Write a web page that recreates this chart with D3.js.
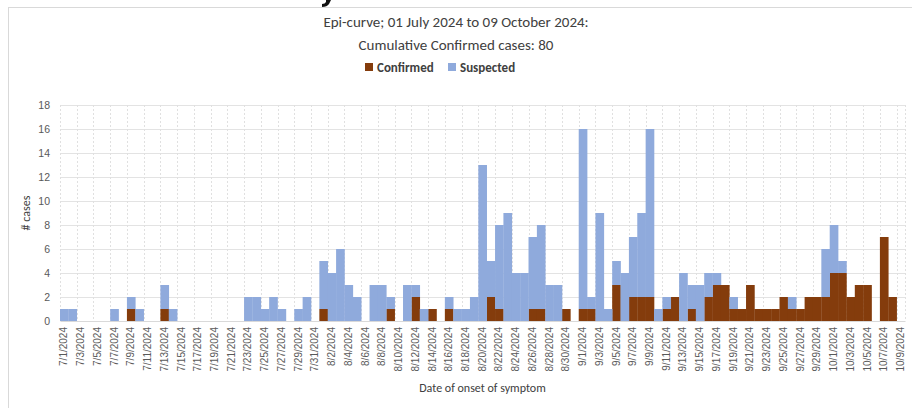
<!DOCTYPE html>
<html>
<head>
<meta charset="utf-8">
<script src="https://cdn.jsdelivr.net/npm/d3@7"></script>
<style>
  body { margin: 0; background: #fff; }
  svg { display: block; font-family: Carlito, Calibri, 'Liberation Sans Narrow', 'DejaVu Sans Condensed', sans-serif; }
  .title { fill: #404040; font-size: 15px; }
  .legend-label { fill: #404040; font-size: 13px; font-weight: bold; }
  .axis text { fill: #595959; }
  .axis-title { fill: #404040; font-size: 12px; }
</style>
</head>
<body>
<svg id="chart"></svg>
<script>
// daily categories 1 Jul - 9 Oct 2024
const startDay = new Date(2024, 6, 1);
const endDay = new Date(2024, 9, 10);

// confirmed cases per day (Jul, Aug, Sep, Oct)
const confirmed = [
  0,0,0,0,0,0,0,0,1,0, 0,0,1,0,0,0,0,0,0,0, 0,0,0,0,0,0,0,0,0,0, 0,
  1,0,0,0,0,0,0,0,1,0, 0,2,0,1,0,1,0,0,0,0, 2,1,0,0,0,1,1,0,0,1, 0,
  1,1,0,0,3,0,2,2,2,0, 1,2,0,1,0,2,3,3,1,1, 3,1,1,1,2,1,1,2,2,2,
  4,4,2,3,3,0,7,2,0
];

// suspected cases per day
const suspected = [
  1,1,0,0,0,0,1,0,1,1, 0,0,2,1,0,0,0,0,0,0, 0,0,2,2,1,2,1,0,1,2, 0,
  4,4,6,3,2,0,3,3,1,0, 3,1,1,0,0,1,1,1,2,13, 3,7,9,4,4,6,7,3,3,0, 0,
  15,1,9,1,2,4,5,7,14,1, 1,0,4,2,3,2,1,0,1,0, 0,0,0,0,0,1,0,0,0,4,
  4,1,0,0,0,0,0,0,0
];

const yTicks = [0, 2, 4, 6, 8, 10, 12, 14, 16, 18];
const seriesNames = ['Confirmed', 'Suspected'];
const seriesColors = ['#843c0c', '#8faadc'];

class EpiCurve {

  constructor(_config, _data) {
    this.config = {
      parentElement: _config.parentElement,
      containerWidth: _config.containerWidth || 912,
      containerHeight: _config.containerHeight || 408,
      margin: _config.margin || {top: 105, right: 7, bottom: 87, left: 60}
    };
    this.data = _data;
    this.initVis();
  }

  initVis() {
    let vis = this;

    vis.width = vis.config.containerWidth - vis.config.margin.left - vis.config.margin.right;
    vis.height = vis.config.containerHeight - vis.config.margin.top - vis.config.margin.bottom;

    vis.svg = d3.select(vis.config.parentElement)
        .attr('width', vis.config.containerWidth)
        .attr('height', vis.config.containerHeight);

    // chart frame (cut off on the right, like the screenshot)
    vis.svg.append('rect')
        .attr('x', 8.5).attr('y', 7.5)
        .attr('width', 920).attr('height', 420)
        .attr('fill', '#fff')
        .attr('stroke', '#d9d9d9');

    // descender of the page heading that sits above the frame
    vis.svg.append('path')
        .attr('d', 'M326,0 L331,0 L329,4 Q327,7 322,7 L322,4 Q325,4 326,2 Z')
        .attr('fill', '#111');

    vis.chart = vis.svg.append('g')
        .attr('transform', `translate(${vis.config.margin.left},${vis.config.margin.top})`);

    vis.xScale = d3.scaleBand()
        .range([0, vis.width])
        .padding(0);

    vis.yScale = d3.scaleLinear()
        .range([vis.height, 0]);

    vis.gridG = vis.chart.append('g').attr('class', 'grid');
    vis.barsG = vis.chart.append('g').attr('class', 'bars');
    vis.xAxisG = vis.chart.append('g')
        .attr('class', 'axis x-axis')
        .attr('transform', `translate(0,${vis.height})`);
    vis.yAxisG = vis.chart.append('g')
        .attr('class', 'axis y-axis');

    // titles
    const cx = vis.config.containerWidth / 2;
    vis.svg.append('text')
        .attr('class', 'title')
        .attr('x', cx).attr('y', 27)
        .style('text-anchor', 'middle')
        .text('Epi-curve; 01 July 2024 to 09 October 2024:');
    vis.svg.append('text')
        .attr('class', 'title')
        .attr('x', cx).attr('y', 50)
        .style('text-anchor', 'middle')
        .text('Cumulative Confirmed cases: 80');

    // legend
    const legend = vis.svg.append('g')
        .attr('transform', 'translate(365,63)');
    const legendX = [0, 83];
    seriesNames.forEach((name, i) => {
      legend.append('rect')
          .attr('x', legendX[i]).attr('y', 0)
          .attr('width', 8).attr('height', 8)
          .attr('fill', seriesColors[i]);
      legend.append('text')
          .attr('class', 'legend-label')
          .attr('x', legendX[i] + 12).attr('y', 9)
          .text(name);
    });

    vis.chart.append('text')
        .attr('class', 'axis-title')
        .attr('transform', `translate(-30,${vis.height / 2}) rotate(-90)`)
        .style('text-anchor', 'middle')
        .text('# cases');

    vis.chart.append('text')
        .attr('class', 'axis-title')
        .attr('x', vis.width / 2)
        .attr('y', vis.height + 71)
        .style('text-anchor', 'middle')
        .text('Date of onset of symptom');
  }

  updateVis() {
    let vis = this;

    vis.fmt = d3.timeFormat('%-m/%-d/%Y');
    vis.xValue = d => vis.fmt(d.date);

    vis.xScale.domain(vis.data.map(vis.xValue));
    vis.yScale.domain([0, 18]);

    vis.stacked = d3.stack().keys(['confirmed', 'suspected'])(vis.data);

    vis.labelDays = vis.data.filter((d, i) => i % 2 === 0).map(vis.xValue);

    vis.xAxis = d3.axisBottom(vis.xScale)
        .tickValues(vis.labelDays)
        .tickSize(0)
        .tickPadding(6);

    vis.yAxis = d3.axisLeft(vis.yScale)
        .tickValues(yTicks)
        .tickSize(0)
        .tickPadding(10);

    vis.renderVis();
  }

  renderVis() {
    let vis = this;

    // horizontal gridlines
    vis.gridG.selectAll('.hgrid')
        .data(yTicks.filter(d => d > 0))
      .join('line')
        .attr('class', 'hgrid')
        .attr('x1', 0).attr('x2', vis.width)
        .attr('y1', d => vis.yScale(d) + 0.5)
        .attr('y2', d => vis.yScale(d) + 0.5)
        .attr('stroke', '#e3e3e3');

    // dashed vertical gridlines every second day
    const vLines = vis.labelDays.map(d => vis.xScale(d)).concat([vis.width]);
    vis.gridG.selectAll('.vgrid')
        .data(vLines)
      .join('line')
        .attr('class', 'vgrid')
        .attr('x1', d => Math.round(d) + 0.5).attr('x2', d => Math.round(d) + 0.5)
        .attr('y1', 0).attr('y2', vis.height)
        .attr('stroke', '#e0e0e0')
        .attr('stroke-dasharray', '2,2');

    vis.barsG.selectAll('.series')
        .data(vis.stacked)
      .join('g')
        .attr('class', 'series')
        .attr('fill', (d, i) => seriesColors[i])
      .selectAll('rect')
        .data(d => d)
      .join('rect')
        .attr('x', d => vis.xScale(vis.xValue(d.data)))
        .attr('width', vis.xScale.bandwidth() + 0.3)
        .attr('y', d => vis.yScale(d[1]))
        .attr('height', d => vis.yScale(d[0]) - vis.yScale(d[1]));

    vis.xAxisG
        .call(vis.xAxis)
        .call(g => g.select('.domain').attr('stroke', '#d9d9d9'))
        .call(g => g.selectAll('.tick text')
            .style('font-size', '10px')
            .attr('transform', 'rotate(-90)')
            .attr('x', -6).attr('y', 0).attr('dy', '0.32em')
            .style('text-anchor', 'end'));

    vis.yAxisG
        .call(vis.yAxis)
        .call(g => g.select('.domain').remove())
        .call(g => g.selectAll('.tick text').style('font-size', '10.5px'));
  }
}

const days = d3.timeDay.range(startDay, endDay);
const data = days.map((date, i) => ({date: date, confirmed: confirmed[i], suspected: suspected[i]}));

const epi = new EpiCurve({parentElement: '#chart'}, data);
epi.updateVis();
</script>
</body>
</html>
